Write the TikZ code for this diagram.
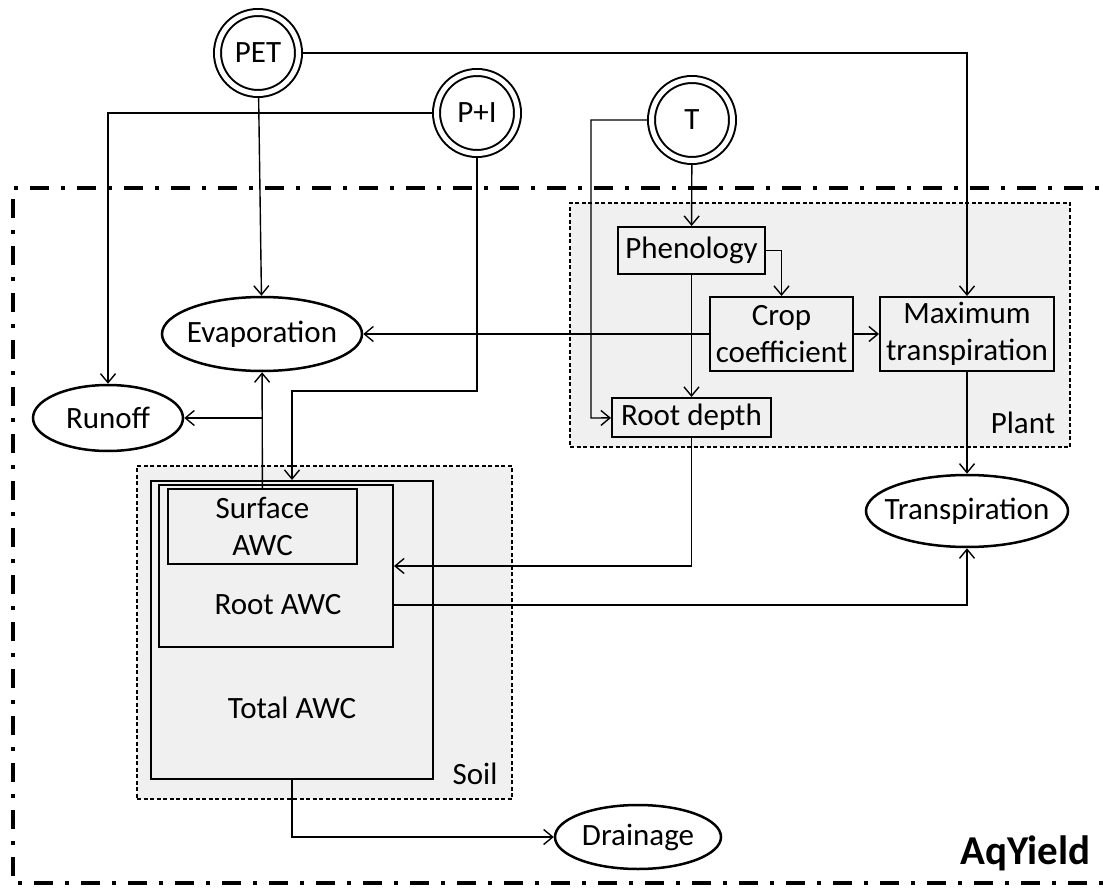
\documentclass[tikz,border=0pt]{standalone}
\usepackage{fontspec}
\setmainfont{Carlito}
\usetikzlibrary{arrows.meta,shapes.geometric}
\definecolor{bgray}{HTML}{F0F0F0}
\begin{document}
\begin{tikzpicture}[x=1pt,y=-1pt,
  every node/.style={font=\fontsize{31}{37}\selectfont},
  conn/.style={line width=1.4pt},
  arr/.style={conn,-{Straight Barb[length=9pt,width=15pt,line width=1.4pt]}},
  group/.style={draw, dash pattern=on 4pt off 2.5pt, line width=1.3pt, fill=bgray, inner sep=0pt},
  boxx/.style={draw, line width=2pt, fill=bgray, inner sep=0pt, align=center},
  ellip/.style={draw, ellipse, line width=2.5pt, fill=white, inner sep=0pt},
  dcirc/.style={draw, circle, double, double distance=5pt, line width=2pt, fill=white, minimum size=81pt, inner sep=0pt, outer sep=4.5pt},
]
\useasboundingbox (0,0) rectangle (1103,890);
\fill[white] (0,0) rectangle (1103,890);
\draw[line width=4.5pt, dash pattern=on 19pt off 12pt on 4pt off 12pt] (1130,188) -- (13,188) -- (13,883) -- (1130,883);

% groups
\node[group, minimum width=500pt, minimum height=244pt] (Plant) at (820,325) {};
\node[group, minimum width=375pt, minimum height=333pt] (Soil) at (324.5,632.5) {};
\node (plantlbl) at (1023,423) {Plant};
\node (soillbl) at (475,774) {Soil};

% soil boxes
\node[boxx, minimum width=282pt, minimum height=298pt] (Total) at (292,630) {};
\node[boxx, minimum width=234pt, minimum height=162pt] (RootAWC) at (276,566) {};
\node[boxx, minimum width=189pt, minimum height=75pt] (Surface) at (262.5,526.5) {Surface\\AWC};
\node (ralbl) at (278,605) {Root AWC};
\node (talbl) at (292,708) {Total AWC};

% plant boxes
\node[boxx, minimum width=147pt, minimum height=47pt] (Phen) at (691.5,250.5) {Phenology};
\node[boxx, minimum width=143pt, minimum height=74pt] (Crop) at (781.5,334) {Crop\\coefficient};
\node[boxx, minimum width=174pt, minimum height=74pt] (Max) at (967,334) {Maximum\\transpiration};
\node[boxx, minimum width=159pt, minimum height=39pt] (Root) at (691.5,417.5) {Root depth};

% inputs
\node[dcirc] (PET) at (258,53) {PET};
\node[dcirc] (PI) at (477,113) {P+I};
\node[dcirc] (T) at (692,120) {T};

% outputs
\node[ellip, minimum width=200pt, minimum height=74pt, label=center:Evaporation] (Evap) at (262,334) {};
\node[ellip, minimum width=150pt, minimum height=66pt, label=center:Runoff] (Runoff) at (108,418) {};
\node[ellip, minimum width=202pt, minimum height=72pt, label=center:Transpiration] (Transp) at (967,511) {};
\node[ellip, minimum width=166pt, minimum height=64pt, label=center:Drainage] (Drain) at (638,837) {};

\node[font=\fontsize{41}{49}\selectfont\bfseries, anchor=east] (aq) at (1094,853) {AqYield};

% connectors
\coordinate (pib) at (292,391);
\coordinate (tb) at (591,418);
\coordinate (rtb) at (967,605);
\coordinate (rob) at (262.5,418);
\draw[arr] (PET) -| (Max);
\draw[arr] (PET) -- (Evap);
\draw[arr] (PI) -| (Runoff);
\draw[arr] (PI) |- (pib) -- (Total);
\draw[arr] (T) -- (Phen);
\draw[arr] (T) -| (tb) -- (Root);
\draw[arr] (Phen) -| (Crop);
\draw[arr] (Phen) -- (Root);
\draw[arr] (Crop) -- (Max);
\draw[arr] (Crop) -- (Evap);
\draw[arr] (Max) -- (Transp);
\draw[arr] (Root) |- (RootAWC);
\draw[arr] (RootAWC.east |- rtb) -- (rtb) -- (Transp);
\draw[arr] (Surface) -- (Evap);
\draw[arr] (rob) -- (Runoff);
\draw[arr] (Total) |- (Drain);
\end{tikzpicture}
\end{document}
